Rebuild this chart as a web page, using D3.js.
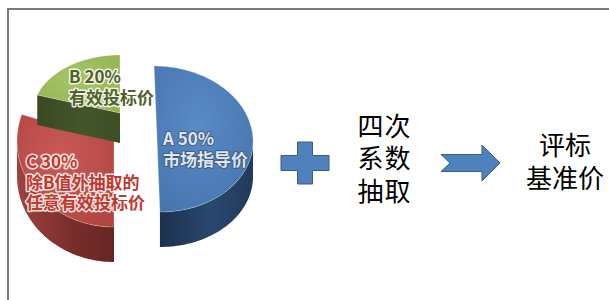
<!DOCTYPE html>
<html lang="zh">
<head>
  <meta charset="UTF-8">
  <title>评标基准价</title>
  <script src="https://cdn.jsdelivr.net/npm/d3@7"></script>
  <style>
    body { margin: 0; background: #fff; }
    #grafico { width: 609px; height: 300px; }
    .etiqueta {
      font-family: "Noto Sans CJK SC", "Noto Sans", sans-serif;
      font-weight: 700;
      font-size: 17px;
      paint-order: stroke;
      stroke-linejoin: round;
    }
    .paso {
      font-family: "Noto Sans CJK SC", sans-serif;
      font-weight: 400;
      font-size: 26px;
      fill: #000;
    }
  </style>
</head>
<body>
  <div id="grafico"></div>
  <script>
    // datos (orden de dibujo de la tarta: A, C, B en sentido horario desde arriba)
    var categorias = ["A", "C", "B"];
    var porcentajes = [50, 30, 20];
    var descripciones = [["市场指导价"], ["除B值外抽取的", "任意有效投标价"], ["有效投标价"]];
    var pasoTexto = ["四次", "系数", "抽取"];
    var resultadoTexto = ["评标", "基准价"];

    var w = 609, h = 300;

    // geometría de cada porción (vista 3D aproximada)
    var geo = {
      A: {cx: 157, cy: 139, rx: 96, ry: 73, depth: 35, skew: 0.04},
      C: {cx: 114, cy: 141, rx: 97, ry: 86, depth: 35, skew: 0},
      B: {cx: 120, cy: 113, rx: 87, ry: 58, depth: 30, skew: 0}
    };
    var colores = {
      A: {top: ["#5A8BC6", "#4674AE"], side: ["#1C304C", "#2A4870", "#213A5B"], text: "#DCE5F0", halo: "#3E5675"},
      C: {top: ["#C95B57", "#B24542"], side: ["#9E423F", "#7A2E2C", "#682523"], text: "#C0392F", halo: "#ffffff"},
      B: {top: ["#A6C567", "#94B352"], side: ["#3A4922", "#44552A", "#3E4E25"], text: "#4F6228", halo: "#ffffff"}
    };
    var posEtiqueta = {A: [163, 145], C: [26, 168], B: [69, 83]};
    var interlinea = 20.5;

    var svg = d3.select("#grafico").append("svg")
      .attr("width", w).attr("height", h);
    var defs = svg.append("defs");

    // marco
    svg.append("path")
      .attr("d", "M8," + h + "V9H" + w)
      .attr("fill", "none")
      .attr("stroke", "#7a7a7a")
      .attr("stroke-width", 2);

    var pie = d3.pie().sort(null).value(function(d){ return d; });
    var arcos = pie(porcentajes);

    function pt(g, a, r, dz) {
      return [g.cx + r * g.rx * Math.sin(a) - g.skew * r * g.ry * Math.cos(a),
              g.cy - r * g.ry * Math.cos(a) + dz];
    }
    function arcPts(g, a0, a1, dz) {
      var n = Math.max(2, Math.ceil((a1 - a0) / 0.03));
      return d3.range(n + 1).map(function(i){ return pt(g, a0 + (a1 - a0) * i / n, 1, dz); });
    }
    var linea = d3.line().curve(d3.curveLinearClosed);

    // gradientes
    categorias.forEach(function(c){
      var col = colores[c];
      var rg = defs.append("radialGradient").attr("id", "top" + c)
        .attr("cx", "45%").attr("cy", "40%").attr("r", "70%");
      rg.append("stop").attr("offset", "0%").attr("stop-color", col.top[0]);
      rg.append("stop").attr("offset", "100%").attr("stop-color", col.top[1]);
      var lg = defs.append("linearGradient").attr("id", "side" + c)
        .attr("x1", "0%").attr("x2", "100%").attr("y1", "0%").attr("y2", "0%");
      lg.append("stop").attr("offset", "0%").attr("stop-color", col.side[0]);
      lg.append("stop").attr("offset", "55%").attr("stop-color", col.side[1]);
      lg.append("stop").attr("offset", "100%").attr("stop-color", col.side[2]);
    });

    // orden de pintado: C, B, A
    var orden = ["C", "B", "A"];
    orden.forEach(function(c){
      var i = categorias.indexOf(c);
      var d = arcos[i];
      var g = geo[c];
      var a0 = d.startAngle, a1 = d.endAngle;
      var capa = svg.append("g").attr("class", "porcion");

      // lateral exterior visible (mitad cercana)
      var s = Math.max(a0, Math.PI / 2), e = Math.min(a1, 3 * Math.PI / 2);
      if (e > s) {
        var lado = arcPts(g, s, e, 0).concat(arcPts(g, s, e, g.depth).reverse());
        capa.append("path").attr("d", linea(lado)).attr("fill", "url(#side" + c + ")");
      }
      // caras radiales visibles
      [[a0, Math.sin(a0) < -0.01], [a1, Math.sin(a1) > 0.01]].forEach(function(f){
        if (!f[1]) return;
        var cara = [pt(g, f[0], 0, 0), pt(g, f[0], 1, 0), pt(g, f[0], 1, g.depth), pt(g, f[0], 0, g.depth)];
        capa.append("path").attr("d", linea(cara)).attr("fill", "url(#side" + c + ")");
      });
      // cara superior
      var sup = [pt(g, 0, 0, 0)].concat(arcPts(g, a0, a1, 0));
      capa.append("path").attr("d", linea(sup))
        .attr("fill", "url(#top" + c + ")")
        .attr("stroke", "rgba(255,255,255,0.25)")
        .attr("stroke-width", 1);
    });

    // etiquetas, una línea por elemento de texto
    orden.forEach(function(c){
      var i = categorias.indexOf(c);
      var lineas = [c + " " + porcentajes[i] + "%"].concat(descripciones[i]);
      var col = colores[c];
      svg.append("g").selectAll("text").data(lineas).enter().append("text")
        .attr("class", "etiqueta")
        .attr("x", posEtiqueta[c][0])
        .attr("y", function(d, k){ return posEtiqueta[c][1] + k * interlinea; })
        .attr("fill", col.text)
        .attr("stroke", col.halo)
        .attr("stroke-width", c === "A" ? 2 : 3)
        .attr("stroke-opacity", 0.85)
        .text(function(d){ return d; });
    });

    // signo más
    var mas = d3.path();
    var px = 305, py = 163, brazo = 24, grosor = 7.5, alto = 21;
    mas.moveTo(px - grosor, py - alto);
    mas.lineTo(px + grosor, py - alto);
    mas.lineTo(px + grosor, py - grosor);
    mas.lineTo(px + brazo, py - grosor);
    mas.lineTo(px + brazo, py + grosor);
    mas.lineTo(px + grosor, py + grosor);
    mas.lineTo(px + grosor, py + alto);
    mas.lineTo(px - grosor, py + alto);
    mas.lineTo(px - grosor, py + grosor);
    mas.lineTo(px - brazo, py + grosor);
    mas.lineTo(px - brazo, py - grosor);
    mas.lineTo(px - grosor, py - grosor);
    mas.closePath();
    svg.append("path").attr("d", mas.toString())
      .attr("fill", "#4F81BD").attr("stroke", "#385D8A").attr("stroke-width", 1);

    // flecha con muesca
    var fl = d3.path();
    var fy = 163;
    fl.moveTo(441, fy - 8.5);
    fl.lineTo(482, fy - 8.5);
    fl.lineTo(482, fy - 18);
    fl.lineTo(500, fy);
    fl.lineTo(482, fy + 18);
    fl.lineTo(482, fy + 8.5);
    fl.lineTo(441, fy + 8.5);
    fl.lineTo(450, fy);
    fl.closePath();
    svg.append("path").attr("d", fl.toString())
      .attr("fill", "#4F81BD").attr("stroke", "#385D8A").attr("stroke-width", 1);

    // textos del proceso
    svg.append("g").selectAll("text").data(pasoTexto).enter().append("text")
      .attr("class", "paso")
      .attr("x", 384.5)
      .attr("y", function(d, i){ return 135.5 + i * 32.5; })
      .attr("text-anchor", "middle")
      .attr("letter-spacing", 1)
      .text(function(d){ return d; });

    svg.append("g").selectAll("text").data(resultadoTexto).enter().append("text")
      .attr("class", "paso")
      .attr("x", 565)
      .attr("y", function(d, i){ return 154.5 + i * 33.5; })
      .attr("text-anchor", "middle")
      .text(function(d){ return d; });
  </script>
</body>
</html>
